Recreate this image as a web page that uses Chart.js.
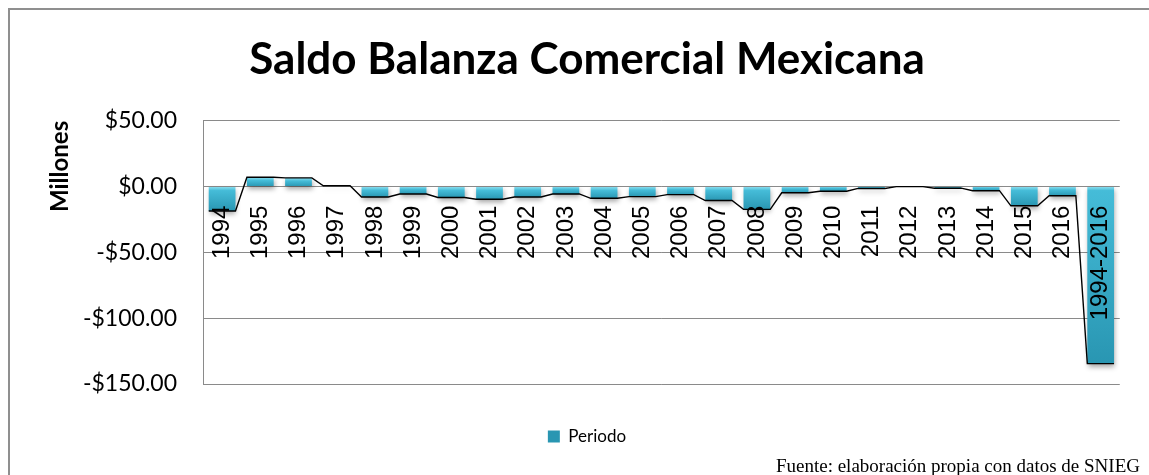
<!DOCTYPE html>
<html>
<head>
<meta charset="utf-8">
<script src="https://cdn.jsdelivr.net/npm/chart.js@4.4.1/dist/chart.umd.min.js"></script>
<style>
  html, body { margin: 0; padding: 0; background: #ffffff; }
  #wrap { position: relative; width: 1149px; height: 475px; overflow: hidden; }
  #frame {
    position: absolute; left: 8px; top: 8px; width: 1300px; height: 600px;
    border: 2px solid #8f8f8f; box-sizing: border-box;
  }
  #chart { position: absolute; left: 0; top: 0; }
  #fuente {
    position: absolute; right: 9px; top: 456px; line-height: 19px;
    font-family: "Liberation Serif", "Times New Roman", serif; font-size: 19px;
    color: #000; white-space: nowrap;
  }
</style>
</head>
<body>
<div id="wrap">
  <div id="frame"></div>
  <canvas id="chart" width="1149" height="475"></canvas>
  <div id="fuente">Fuente: elaboración propia con datos de SNIEG</div>
</div>
<script>
  const categories = [
    "1994", "1995", "1996", "1997", "1998", "1999", "2000", "2001",
    "2002", "2003", "2004", "2005", "2006", "2007", "2008", "2009",
    "2010", "2011", "2012", "2013", "2014", "2015", "2016", "1994-2016"
  ];
  // saldo en millones
  const saldo = [
    -18.5, 7.1, 6.6, 0.6, -7.9, -5.6, -8.3, -9.6,
    -7.9, -5.6, -8.9, -7.6, -6.1, -10.6, -17.3, -4.7,
    -3.5, -1.4, 0.0, -1.2, -3.1, -14.6, -7.0, -134.5
  ];
  const tickValues = [50, 0, -50, -100, -150];
  const tickLabels = ["$50.00", "$0.00", "-$50.00", "-$100.00", "-$150.00"];

  const gridGray = "#8a8a8a";
  const barBase = "#38b2cf";

  function barFill(context) {
    const chart = context.chart;
    if (context.type !== "data" || !chart.chartArea) {
      return barBase;
    }
    const y = chart.scales.y;
    const p0 = y.getPixelForValue(0);
    const p1 = y.getPixelForValue(context.raw);
    const top = Math.min(p0, p1);
    const bottom = Math.max(p0, p1);
    const h = bottom - top;
    if (h < 2) {
      return barBase;
    }
    const g = chart.ctx.createLinearGradient(0, top, 0, bottom);
    g.addColorStop(0, "#8fe0f0");
    g.addColorStop(Math.min(0.35, 4 / h), "#45bcd8");
    g.addColorStop(1, "#2996b2");
    return g;
  }

  // sombra bajo las barras y linea negra que une los extremos de cada barra
  const barDecor = {
    id: "barDecor",
    beforeDatasetsDraw(chart) {
      const ctx = chart.ctx;
      ctx.save();
      ctx.shadowColor = "rgba(0,0,0,0.35)";
      ctx.shadowBlur = 5;
      ctx.shadowOffsetX = 1;
      ctx.shadowOffsetY = 3;
    },
    afterDatasetsDraw(chart) {
      const ctx = chart.ctx;
      ctx.restore();
      const bars = chart.getDatasetMeta(0).data;
      ctx.save();
      ctx.beginPath();
      bars.forEach((bar, i) => {
        const half = bar.width / 2;
        if (i === 0) {
          ctx.moveTo(bar.x - half, bar.y);
        } else {
          ctx.lineTo(bar.x - half, bar.y);
        }
        ctx.lineTo(bar.x + half, bar.y);
      });
      ctx.strokeStyle = "#000000";
      ctx.lineWidth = 1.4;
      ctx.stroke();
      ctx.restore();
    }
  };

  new Chart(document.getElementById("chart"), {
    type: "bar",
    data: {
      labels: categories,
      datasets: [
        {
          label: "Periodo",
          data: saldo,
          backgroundColor: barFill,
          borderWidth: 0,
          barPercentage: 0.7,
          categoryPercentage: 1
        }
      ]
    },
    options: {
      responsive: false,
      animation: false,
      layout: { padding: { left: 50, right: 25, top: 0, bottom: 20 } },
      plugins: {
        title: {
          display: true,
          text: "Saldo Balanza Comercial Mexicana",
          color: "#000000",
          font: { family: "Lato", size: 44, weight: "bold" },
          padding: { top: 33, bottom: 35 }
        },
        legend: {
          position: "bottom",
          labels: {
            color: "#000000",
            font: { family: "Lato", size: 17 },
            boxWidth: 12,
            boxHeight: 12,
            padding: 44
          }
        },
        tooltip: { enabled: false }
      },
      scales: {
        x: {
          position: { y: 0 },
          grid: { display: false, drawTicks: false },
          border: { display: false },
          ticks: {
            z: 1,
            color: "#000000",
            font: { family: "Liberation Sans", size: 24 },
            minRotation: 90,
            maxRotation: 90,
            autoSkip: false,
            padding: 19
          }
        },
        y: {
          min: Math.min(...tickValues),
          max: Math.max(...tickValues),
          afterFit(scale) {
            scale.width = 153;
          },
          afterBuildTicks(scale) {
            scale.ticks = tickValues.map(v => ({ value: v }));
          },
          grid: { color: gridGray, lineWidth: 1, drawTicks: false },
          border: { display: true, color: gridGray, width: 1 },
          ticks: {
            color: "#000000",
            font: { family: "Lato", size: 23 },
            padding: 26,
            callback: value => tickLabels[tickValues.indexOf(value)]
          },
          title: {
            display: true,
            text: "Millones",
            align: "end",
            color: "#000000",
            font: { family: "Lato", size: 24, weight: "bold" },
            padding: { top: -4, bottom: 0 }
          }
        }
      }
    },
    plugins: [barDecor]
  });
</script>
</body>
</html>
